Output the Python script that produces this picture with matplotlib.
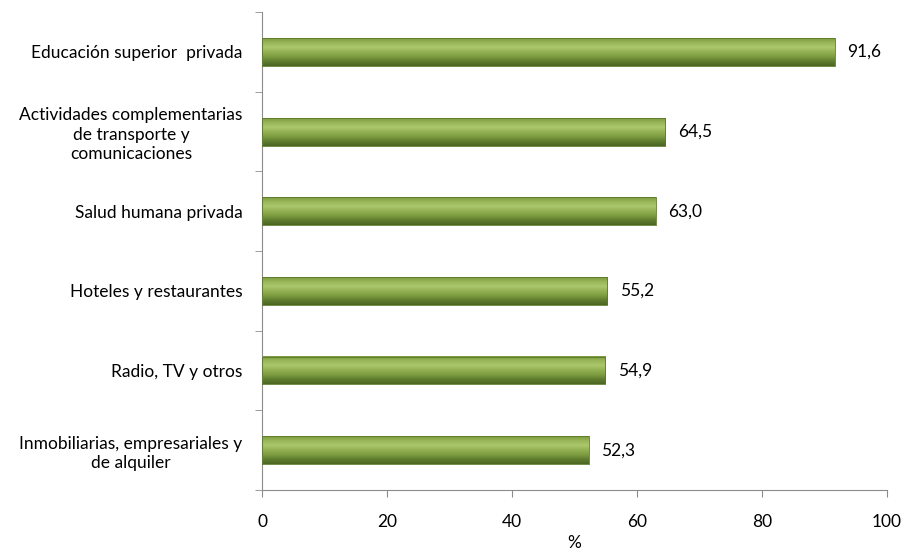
import matplotlib.pyplot as plt
import numpy as np
from matplotlib.colors import LinearSegmentedColormap

categorias = [
    "Inmobiliarias, empresariales y\nde alquiler",
    "Radio, TV y otros",
    "Hoteles y restaurantes",
    "Salud humana privada",
    "Actividades complementarias\nde transporte y\ncomunicaciones",
    "Educación superior  privada",
]
valores = [52.3, 54.9, 55.2, 63.0, 64.5, 91.6]
etiquetas = ["52,3", "54,9", "55,2", "63,0", "64,5", "91,6"]
xticks = [0, 20, 40, 60, 80, 100]

plt.rcParams["font.family"] = ["Lato", "DejaVu Sans"]
fs = 12.5

fig = plt.figure(figsize=(9.02, 5.53), dpi=100)
ax = fig.add_axes([0.2905, 0.114, 0.693, 0.864])

# degradado tipo cilindro (de abajo hacia arriba)
verde = LinearSegmentedColormap.from_list(
    "verde",
    ["#4c6623", "#5f7d2f", "#7d9c40", "#93b152", "#aac86c", "#9ab85a", "#7c9a3e"],
)
grad = np.linspace(0, 1, 64).reshape(-1, 1)
alto = 0.35
y = np.arange(len(categorias))

for yi, v in zip(y, valores):
    ax.imshow(grad, cmap=verde, aspect="auto", origin="lower",
              extent=[0, v, yi - alto / 2, yi + alto / 2], zorder=2)
    ax.plot([0, v, v, 0, 0], [yi - alto / 2, yi - alto / 2, yi + alto / 2, yi + alto / 2, yi - alto / 2],
            color="#5a7a2a", lw=0.6, zorder=3)

for yi, v, t in zip(y, valores, etiquetas):
    ax.annotate(t, (v, yi), xytext=(9, 0), textcoords="offset points",
                va="center", ha="left", fontsize=fs)

ax.set_xlim(0, 100)
ax.set_ylim(-0.5, len(categorias) - 0.5)
ax.set_xticks(xticks)
ax.set_xticklabels([str(x) for x in xticks], fontsize=fs)
ax.set_yticks(y)
ax.set_yticklabels(categorias, fontsize=fs, multialignment="center", linespacing=1.25)
ax.set_yticks(np.arange(-0.5, len(categorias), 1), minor=True)
ax.tick_params(axis="y", which="major", length=0, pad=14)
ax.tick_params(axis="y", which="minor", length=5, color="#8c8c8c")
ax.tick_params(axis="x", length=5, color="#8c8c8c", pad=12)
ax.set_xlabel("%", fontsize=fs, labelpad=4)

for s in ["top", "right"]:
    ax.spines[s].set_visible(False)
for s in ["left", "bottom"]:
    ax.spines[s].set_color("#8c8c8c")

fig.savefig("out.png", dpi=100)
